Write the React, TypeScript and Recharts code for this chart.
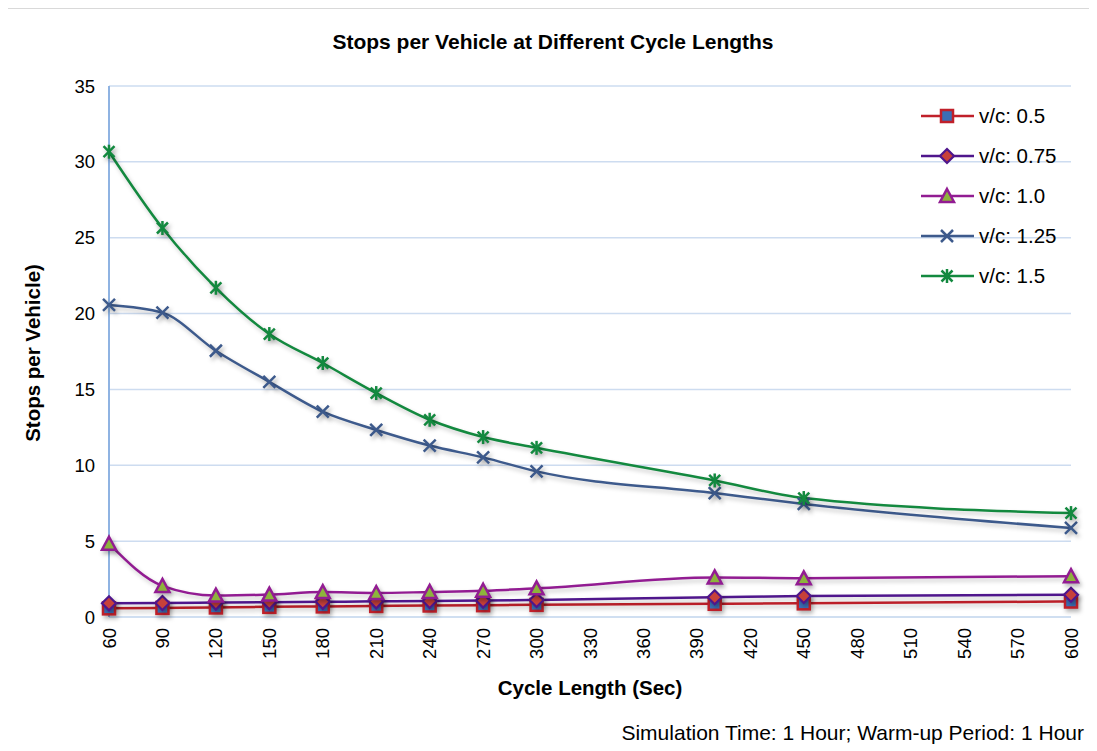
import React from "react";
import { LineChart, Line, XAxis, YAxis, CartesianGrid } from "recharts";

const cycleLengths = [60, 90, 120, 150, 180, 210, 240, 270, 300, 400, 450, 600];
const vc05 = [0.57, 0.6, 0.63, 0.67, 0.7, 0.73, 0.76, 0.78, 0.8, 0.87, 0.9, 1.02];
const vc075 = [0.9, 0.92, 0.95, 0.98, 1.0, 1.03, 1.06, 1.08, 1.12, 1.3, 1.38, 1.47];
const vc10 = [4.83, 2.05, 1.41, 1.48, 1.64, 1.58, 1.65, 1.73, 1.89, 2.61, 2.55, 2.69];
const vc125 = [20.57, 20.06, 17.55, 15.5, 13.53, 12.33, 11.3, 10.52, 9.6, 8.17, 7.45, 5.87];
const vc15 = [30.67, 25.64, 21.7, 18.65, 16.74, 14.76, 13.0, 11.86, 11.15, 9.0, 7.84, 6.85];

const xTicks = [60, 90, 120, 150, 180, 210, 240, 270, 300, 330, 360, 390, 420, 450, 480, 510, 540, 570, 600];
const yTicks = [0, 5, 10, 15, 20, 25, 30, 35];

const seriesNames = ["v/c: 0.5", "v/c: 0.75", "v/c: 1.0", "v/c: 1.25", "v/c: 1.5"];

const data = cycleLengths.map((c, i) => ({
  cycle: c,
  s05: vc05[i],
  s075: vc075[i],
  s10: vc10[i],
  s125: vc125[i],
  s15: vc15[i],
}));

const FONT = "'Liberation Sans', Arial, Helvetica, sans-serif";

type MarkerKind = "square" | "diamond" | "triangle" | "x" | "star";

const series: { key: string; name: string; color: string; marker: MarkerKind }[] = [
  { key: "s05", name: seriesNames[0], color: "#c0202a", marker: "square" },
  { key: "s075", name: seriesNames[1], color: "#4f168c", marker: "diamond" },
  { key: "s10", name: seriesNames[2], color: "#921c92", marker: "triangle" },
  { key: "s125", name: seriesNames[3], color: "#3d5a8c", marker: "x" },
  { key: "s15", name: seriesNames[4], color: "#13893f", marker: "star" },
];

function Marker({ kind, cx, cy }: { kind: MarkerKind; cx: number; cy: number }) {
  switch (kind) {
    case "square":
      return (
        <rect x={cx - 6} y={cy - 6} width={12} height={12} fill="#3b6fb6" stroke="#c0202a" strokeWidth={2.5} />
      );
    case "diamond":
      return (
        <polygon
          points={`${cx},${cy - 7} ${cx + 7},${cy} ${cx},${cy + 7} ${cx - 7},${cy}`}
          fill="#c8413a"
          stroke="#4f168c"
          strokeWidth={2.2}
        />
      );
    case "triangle":
      return (
        <polygon
          points={`${cx},${cy - 7} ${cx + 7},${cy + 6} ${cx - 7},${cy + 6}`}
          fill="#8db33c"
          stroke="#921c92"
          strokeWidth={2.5}
        />
      );
    case "x":
      return (
        <g stroke="#3d5a8c" strokeWidth={2.5}>
          <line x1={cx - 6} y1={cy - 6} x2={cx + 6} y2={cy + 6} />
          <line x1={cx - 6} y1={cy + 6} x2={cx + 6} y2={cy - 6} />
        </g>
      );
    case "star":
      return (
        <g stroke="#13893f" strokeWidth={2.5}>
          <line x1={cx - 5.5} y1={cy - 5.5} x2={cx + 5.5} y2={cy + 5.5} />
          <line x1={cx - 5.5} y1={cy + 5.5} x2={cx + 5.5} y2={cy - 5.5} />
          <line x1={cx} y1={cy - 7} x2={cx} y2={cy + 7} />
        </g>
      );
  }
  return null;
}

const makeDot = (kind: MarkerKind) => (props: any) => {
  const { cx, cy, index } = props;
  if (cx == null || cy == null) return <g key={index} />;
  return (
    <g key={`${kind}-${index}`}>
      <Marker kind={kind} cx={cx} cy={cy} />
    </g>
  );
};

const XTick = (props: any) => {
  const { x, y, payload } = props;
  return (
    <text
      x={x}
      y={y}
      transform={`rotate(-90 ${x} ${y})`}
      textAnchor="end"
      dominantBaseline="central"
      fontSize={18.5}
      fontFamily={FONT}
      fill="#000"
    >
      {payload.value}
    </text>
  );
};

const LegendBox = () => (
  <div style={{ position: "absolute", left: 913, top: 87, fontFamily: FONT }}>
    {series.map((s) => (
      <div key={s.key} style={{ display: "flex", alignItems: "center", height: 40 }}>
        <svg width={56} height={20} style={{ overflow: "visible" }}>
          <line x1={0} y1={10} x2={53} y2={10} stroke={s.color} strokeWidth={2.5} />
          <Marker kind={s.marker} cx={26} cy={10} />
        </svg>
        <span style={{ fontSize: 20.5, color: "#000", marginLeft: 2, whiteSpace: "nowrap" }}>{s.name}</span>
      </div>
    ))}
  </div>
);

export default function App() {
  return (
    <div
      style={{
        position: "relative",
        width: 1100,
        height: 760,
        border: "1px solid #d9d9d9",
        marginLeft: -1,
        background: "#fff",
        fontFamily: FONT,
      }}
    >
      <style>{`
        .recharts-line-curve { filter: drop-shadow(2px 3px 2px rgba(0,0,0,0.22)); }
        .recharts-line-dots { filter: drop-shadow(2px 3px 2px rgba(0,0,0,0.3)); }
      `}</style>
      <div
        style={{
          position: "absolute",
          left: 0,
          width: 1090,
          top: 21,
          textAlign: "center",
          fontWeight: "bold",
          fontSize: 21,
          lineHeight: "24px",
          color: "#000",
        }}
      >
        Stops per Vehicle at Different Cycle Lengths
      </div>
      <div style={{ position: "absolute", left: 0, top: 0 }}>
        <LineChart
          width={1089}
          height={742}
          data={data}
          margin={{ top: 77, right: 26, bottom: 74, left: 41 }}
        >
          <CartesianGrid horizontal vertical={false} stroke="#cddcf0" strokeWidth={1.5} />
          <XAxis
            dataKey="cycle"
            type="number"
            domain={[60, 600]}
            ticks={xTicks}
            interval={0}
            height={60}
            tickLine={false}
            tickSize={0}
            tickMargin={11}
            axisLine={{ stroke: "#cddcf0", strokeWidth: 1.5 }}
            tick={<XTick />}
          />
          <YAxis
            type="number"
            domain={[0, 35]}
            ticks={yTicks}
            interval={0}
            width={60}
            tickLine={false}
            tickSize={0}
            tickMargin={14}
            axisLine={{ stroke: "#8fb3e2", strokeWidth: 2 }}
            tick={{ fontSize: 18.5, fontFamily: FONT, fill: "#000" }}
          />
          {series.map((s) => (
            <Line
              key={s.key}
              dataKey={s.key}
              name={s.name}
              type="monotone"
              stroke={s.color}
              strokeWidth={2.5}
              dot={makeDot(s.marker)}
              activeDot={false}
              isAnimationActive={false}
            />
          ))}
        </LineChart>
      </div>
      <LegendBox />
      <div
        style={{
          position: "absolute",
          left: 25,
          top: 344,
          transform: "translate(-50%, -50%) rotate(-90deg)",
          fontWeight: "bold",
          fontSize: 20.5,
          whiteSpace: "nowrap",
          color: "#000",
        }}
      >
        Stops per Vehicle)
      </div>
      <div
        style={{
          position: "absolute",
          left: 582,
          top: 679,
          transform: "translate(-50%, -50%)",
          fontWeight: "bold",
          fontSize: 20.5,
          whiteSpace: "nowrap",
          color: "#000",
        }}
      >
        Cycle Length (Sec)
      </div>
      <div
        style={{
          position: "absolute",
          right: 1100 - 1076,
          top: 724,
          transform: "translateY(-50%)",
          fontSize: 21,
          whiteSpace: "nowrap",
          color: "#000",
        }}
      >
        Simulation Time: 1 Hour; Warm-up Period: 1 Hour
      </div>
    </div>
  );
}
